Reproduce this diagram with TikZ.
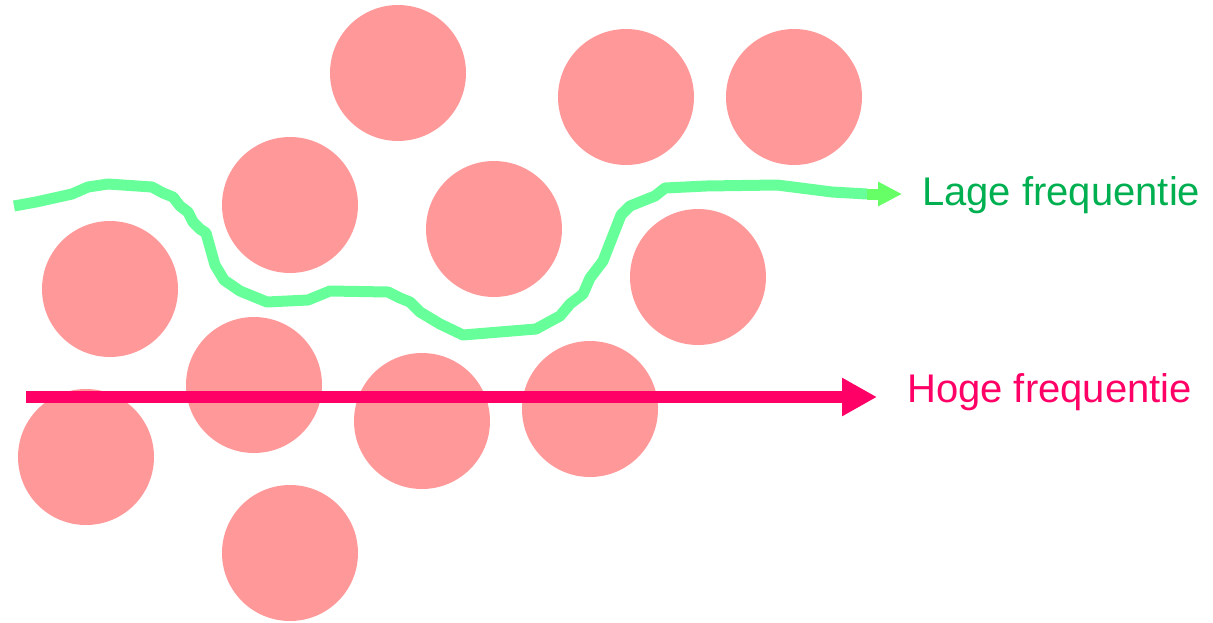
\documentclass[tikz,border=0pt]{standalone}
\usepackage{fontspec}
\setmainfont{Liberation Sans}
\usetikzlibrary{arrows.meta}
\definecolor{ballc}{HTML}{FF9999}
\definecolor{lowc}{HTML}{66FF99}
\definecolor{lowtip}{HTML}{66FF66}
\definecolor{lowtext}{HTML}{00B050}
\definecolor{highc}{HTML}{FF0066}
\begin{document}
\begin{tikzpicture}[x=1pt,y=-1pt,
  ball/.style={circle,fill=ballc,draw=none,minimum size=136pt,inner sep=0pt},
  lowpath/.style={draw=lowc,line width=11pt,line join=round},
  lowarrow/.style={draw=lowtip,line width=11pt,-{Triangle[length=24pt,width=23pt]}},
  higharrow/.style={draw=highc,line width=12pt,-{Triangle[length=35pt,width=36pt]}},
  lbl/.style={anchor=base west,inner sep=0pt,font=\fontsize{40pt}{48pt}\selectfont}]
\useasboundingbox (0,0) rectangle (1213,622);
% particles
\node[ball] (c1) at (398,73) {};
\node[ball] (c2) at (626,97) {};
\node[ball] (c3) at (794,97) {};
\node[ball] (c4) at (290,205) {};
\node[ball] (c5) at (494,229) {};
\node[ball] (c6) at (110,289) {};
\node[ball] (c7) at (698,277) {};
\node[ball] (c8) at (254,385) {};
\node[ball] (c9) at (422,421) {};
\node[ball] (c10) at (590,409) {};
\node[ball] (c11) at (86,457) {};
\node[ball] (c12) at (290,553) {};
% low frequency path
\coordinate (ls) at (14,206);
\coordinate (lm) at (867,194);
\coordinate (le) at (902,194);
\draw[lowpath] (ls) -- (36,202) -- (72,194) -- (88,187) -- (108,184) -- (152,187)
  -- (163,193) -- (173,197) -- (180,206) -- (188,212) -- (193,222) -- (200,229)
  -- (206,233) -- (215,265) -- (224,280) -- (240,291) -- (267,302) -- (308,300)
  -- (330,291) -- (388,292) -- (400,298) -- (410,302) -- (420,312) -- (440,324)
  -- (463,335) -- (536,329) -- (560,316) -- (570,304) -- (583,294) -- (590,278)
  -- (603,261) -- (621,215) -- (630,206) -- (655,196) -- (665,188) -- (706,186)
  -- (777,185) -- (832,192) -- (lm);
\draw[lowarrow] (lm) -- (le);
\node[lbl,text=lowtext] (lt) at (922,205) {Lage frequentie};
% high frequency path
\coordinate (hs) at (26,397);
\coordinate (he) at (877,397);
\draw[higharrow] (hs) -- (he);
\node[lbl,text=highc] (ht) at (907,402) {Hoge frequentie};
\end{tikzpicture}
\end{document}
